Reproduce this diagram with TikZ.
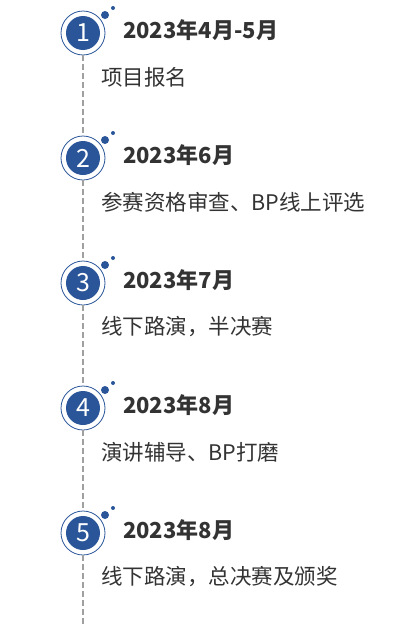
\documentclass[tikz,border=0pt]{standalone}
\usepackage{fontspec}
\setmainfont{Noto Sans CJK SC}
\definecolor{mainblue}{HTML}{2A5699}
\definecolor{dashgray}{HTML}{A0A0A0}
\definecolor{txt}{HTML}{333333}
\tikzset{
  ring/.style={circle,draw=mainblue,line width=0.8pt,fill=white,minimum size=44pt,inner sep=0pt},
  disc/.style={circle,fill=mainblue,minimum size=34pt,inner sep=0pt,text=white,font=\fontsize{25}{25}\selectfont},
  dotbig/.style={circle,fill=mainblue,minimum size=8pt,inner sep=0pt},
  dotsmall/.style={circle,fill=mainblue,minimum size=4pt,inner sep=0pt},
  titletxt/.style={anchor=west,inner sep=0pt,text=txt,font=\fontsize{22}{22}\selectfont\bfseries},
  subtxt/.style={anchor=west,inner sep=0pt,text=txt,font=\fontsize{21.5}{22}\selectfont},
  dline/.style={draw=dashgray,line width=2.6pt,dash pattern=on 6pt off 3pt}
}
\begin{document}
\begin{tikzpicture}[x=1pt,y=-1pt]
\useasboundingbox (0,0) rectangle (413,624);
\coordinate (end) at (83,624);
\foreach \i/\t/\s in {1/2023年4月-5月/项目报名,2/2023年6月/参赛资格审查、BP线上评选,3/2023年7月/线下路演，半决赛,4/2023年8月/演讲辅导、BP打磨,5/2023年8月/线下路演，总决赛及颁奖}{
  \pgfmathsetmacro{\y}{33+125*(\i-1)}
  \node[ring] (r\i) at (83,\y) {};
  \node[disc] (c\i) at (83,\y) {\i};
  \node[dotbig] (db\i) at (105,\y-18) {};
  \node[dotsmall] (ds\i) at (113,\y-25) {};
  \node[titletxt] (t\i) at (123,\y-3) {\t};
  \node[subtxt] (s\i) at (101,\y+44) {\s};
}
\draw[dline] (r1.south) -- (r2.north);
\draw[dline] (r2.south) -- (r3.north);
\draw[dline] (r3.south) -- (r4.north);
\draw[dline] (r4.south) -- (r5.north);
\draw[dline] (r5.south) -- (end);
\end{tikzpicture}
\end{document}
